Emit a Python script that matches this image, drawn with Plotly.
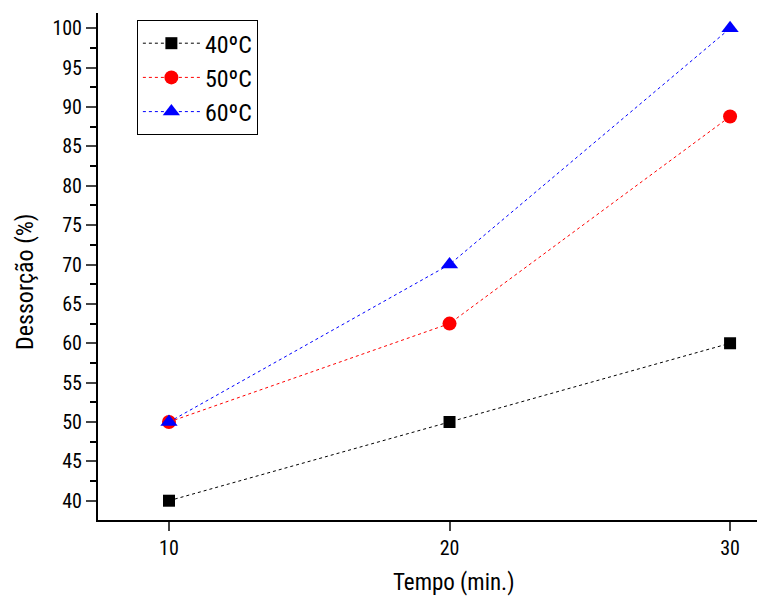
import plotly.graph_objects as go

tempo = [10, 20, 30]
des_40 = [40, 50, 60]
des_50 = [50, 62.5, 88.8]
des_60 = [50, 70, 100]
series_names = ["40ºC", "50ºC", "60ºC"]
y_ticks = [40, 45, 50, 55, 60, 65, 70, 75, 80, 85, 90, 95, 100]
x_ticks = [10, 20, 30]
x_title = "Tempo (min.)"
y_title = "Dessorção (%)"

FONT = "Roboto Condensed, Liberation Sans, Arial, sans-serif"

fig = go.Figure()
styles = [
    (des_40, "black", "square", 12),
    (des_50, "red", "circle", 14),
    (des_60, "blue", "triangle-up", 15),
]
for (vals, col, sym, sz), name in zip(styles, series_names):
    fig.add_trace(go.Scatter(
        x=tempo, y=vals, name=name, mode="lines+markers",
        line=dict(color=col, width=1, dash="dot"),
        marker=dict(color=col, symbol=sym, size=sz),
    ))

fig.add_annotation(text=y_title, xref="paper", yref="paper", x=-0.1108, y=0.4714,
                   xanchor="center", yanchor="middle", textangle=-90, showarrow=False,
                   font=dict(size=24, family=FONT, color="black"))
fig.add_annotation(text=x_title, xref="paper", yref="paper", x=0.5402, y=-0.1223,
                   xanchor="center", yanchor="middle", showarrow=False,
                   font=dict(size=23, family=FONT, color="black"))

fig.update_layout(
    width=757, height=596,
    margin=dict(l=98, r=0, t=13, b=76),
    paper_bgcolor="white", plot_bgcolor="white",
    font=dict(family=FONT, color="black", size=20),
    showlegend=True,
    legend=dict(
        x=0.059, y=0.986, xanchor="left", yanchor="top",
        bordercolor="black", borderwidth=1, bgcolor="white",
        font=dict(size=24, family=FONT),
        tracegroupgap=0, itemsizing="trace", itemwidth=57,
    ),
    xaxis=dict(
        range=[7.47, 30.96], tickvals=x_ticks, ticks="outside", ticklen=9, tickwidth=2,
        showline=True, linecolor="black", linewidth=2, showgrid=False, zeroline=False,
        tickfont=dict(size=20),
    ),
    yaxis=dict(
        range=[37.55, 101.95], tickvals=y_ticks, ticks="outside", ticklen=10, tickwidth=2,
        showline=True, linecolor="black", linewidth=2, showgrid=False, zeroline=False,
        minor=dict(ticks="outside", ticklen=6, tickwidth=2, dtick=2.5, tick0=37.5, tickcolor="black"),
        tickfont=dict(size=20),
    ),
)

fig.write_html("out.html", config={"displayModeBar": False},
               post_script="document.body.style.margin='0';document.body.style.overflow='hidden';")
